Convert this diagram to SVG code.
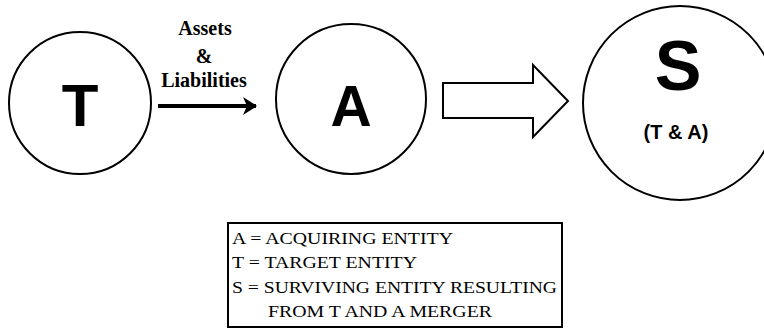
<svg xmlns="http://www.w3.org/2000/svg" width="764" height="329" viewBox="0 0 764 329">
<defs>
<style>
.node{fill:#fff;stroke:#000;stroke-width:2}
.big{font-family:"Liberation Sans",Arial,sans-serif;font-weight:bold;fill:#000;text-anchor:middle}
.lbl{font-family:"Liberation Serif","Times New Roman",serif;font-weight:bold;font-size:20px;fill:#000;text-anchor:middle}
.leg{font-family:"Liberation Serif","Times New Roman",serif;font-size:17px;fill:#000}
</style>
<marker id="ah" markerWidth="14" markerHeight="18" refX="13" refY="9" orient="auto" markerUnits="userSpaceOnUse" viewBox="0 0 14 18">
<path d="M0,0 L14,9 L0,18 L4,9 Z" fill="#000"/>
</marker>
</defs>
<rect width="764" height="329" fill="#fff"/>
<g id="node-T">
<circle class="node" cx="80" cy="103" r="71"/>
<text class="big" x="80" y="126" font-size="60">T</text>
</g>
<g id="node-A">
<circle class="node" cx="351" cy="99" r="75"/>
<text class="big" x="351" y="126" font-size="57">A</text>
</g>
<g id="node-S">
<circle class="node" cx="680" cy="103" r="97"/>
<text class="big" x="678" y="90" font-size="70">S</text>
<text class="big" x="676" y="139" font-size="20">(T &amp; A)</text>
</g>
<g id="connectors">
<line x1="158" y1="106" x2="256" y2="106" stroke="#000" stroke-width="4" marker-end="url(#ah)"/>
<text class="lbl" x="205" y="35">Assets</text>
<text class="lbl" x="204" y="63">&amp;</text>
<text class="lbl" x="204" y="87">Liabilities</text>
<polygon points="443,83 533,83 533,65 568,101 533,137 533,118 443,118" fill="#fff" stroke="#000" stroke-width="2"/>
</g>
<g id="legend">
<rect x="228" y="223" width="334" height="104" fill="#fff" stroke="#000" stroke-width="2"/>
<text class="leg" x="232" y="244" textLength="221" lengthAdjust="spacingAndGlyphs">A = ACQUIRING ENTITY</text>
<text class="leg" x="232" y="268" textLength="185" lengthAdjust="spacingAndGlyphs">T = TARGET ENTITY</text>
<text class="leg" x="232" y="293" textLength="325" lengthAdjust="spacingAndGlyphs">S = SURVIVING ENTITY RESULTING</text>
<text class="leg" x="268" y="317" textLength="224" lengthAdjust="spacingAndGlyphs">FROM T AND A MERGER</text>
</g>
</svg>
